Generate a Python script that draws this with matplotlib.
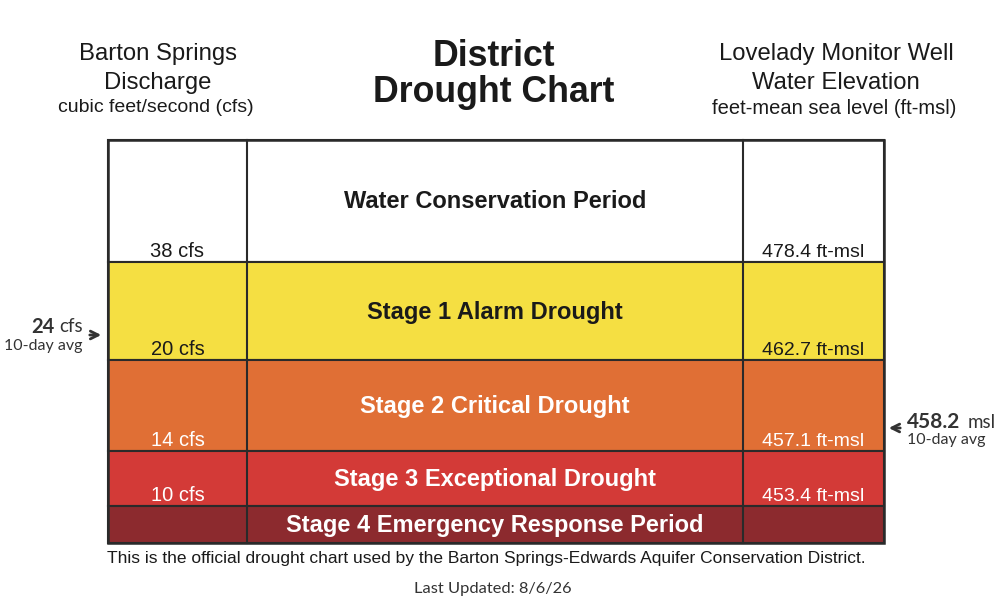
import matplotlib.pyplot as plt
from matplotlib.patches import Rectangle

# stage data
stages = ["Water Conservation Period", "Stage 1 Alarm Drought",
          "Stage 2 Critical Drought", "Stage 3 Exceptional Drought",
          "Stage 4 Emergency Response Period"]
cfs_limits = ["38 cfs", "20 cfs", "14 cfs", "10 cfs", ""]
msl_limits = ["478.4 ft-msl", "462.7 ft-msl", "457.1 ft-msl", "453.4 ft-msl", ""]
band_colors = ["#FFFFFF", "#F5DF42", "#E06F35", "#D33A37", "#8C2A2E"]
text_colors = ["#1a1a1a", "#1a1a1a", "#FFFFFF", "#FFFFFF", "#FFFFFF"]

current_cfs = "24"
current_msl = "458.2"
last_updated = "8/6/26"

# layout in pixels
row_edges = [140, 262, 360, 451, 506, 543]
col_edges = [108, 247, 743, 884]
EDGE = "#2a2a2a"

fig = plt.figure(figsize=(10.08, 6.03), dpi=100)
ax = fig.add_axes([0, 0, 1, 1])
ax.set_xlim(0, 1008)
ax.set_ylim(603, 0)
ax.axis("off")

ARIAL = ["Liberation Sans", "DejaVu Sans"]
ROUND = ["Lato", "DejaVu Sans"]

for i, name in enumerate(stages):
    top, bot = row_edges[i], row_edges[i + 1]
    ax.add_patch(Rectangle((col_edges[0], top), col_edges[-1] - col_edges[0], bot - top,
                           facecolor=band_colors[i], edgecolor=EDGE, linewidth=1.5))
    ax.text((col_edges[1] + col_edges[2]) / 2, (top + bot) / 2 + 1, name,
            ha="center", va="center", fontsize=17, fontweight="bold",
            color=text_colors[i], family=ARIAL)
    ax.text((col_edges[0] + col_edges[1]) / 2, bot - 1, cfs_limits[i],
            ha="center", va="bottom", fontsize=14.5, color=text_colors[i], family=ARIAL)
    ax.text((col_edges[2] + col_edges[3]) / 2, bot - 1, msl_limits[i],
            ha="center", va="bottom", fontsize=14, color=text_colors[i], family=ARIAL)

for x in col_edges[1:3]:
    ax.plot([x, x], [row_edges[0], row_edges[-1]], color=EDGE, linewidth=1.5)
ax.add_patch(Rectangle((col_edges[0], row_edges[0]), col_edges[-1] - col_edges[0],
                       row_edges[-1] - row_edges[0], fill=False, edgecolor=EDGE, linewidth=1.8))

# headers
ax.text(158, 54, "Barton Springs", ha="center", va="center", fontsize=17.2, family=ARIAL, color="#1a1a1a")
ax.text(158, 83, "Discharge", ha="center", va="center", fontsize=17.2, family=ARIAL, color="#1a1a1a")
ax.text(156, 108, "cubic feet/second (cfs)", ha="center", va="center", fontsize=14, family=ARIAL, color="#1a1a1a")

ax.text(494, 56, "District", ha="center", va="center", fontsize=25.7, fontweight="bold", family=ARIAL, color="#1a1a1a")
ax.text(494, 93, "Drought Chart", ha="center", va="center", fontsize=25.7, fontweight="bold", family=ARIAL, color="#1a1a1a")

ax.text(836, 54, "Lovelady Monitor Well", ha="center", va="center", fontsize=17.2, family=ARIAL, color="#1a1a1a")
ax.text(836, 83, "Water Elevation", ha="center", va="center", fontsize=17.2, family=ARIAL, color="#1a1a1a")
ax.text(834, 108, "feet-mean sea level (ft-msl)", ha="center", va="center", fontsize=14.5, family=ARIAL, color="#1a1a1a")

# current readings
ax.annotate("", xy=(104, 335), xytext=(87, 335),
            arrowprops=dict(arrowstyle="->", color="#333333", lw=2, mutation_scale=14))
ax.text(54, 327, current_cfs, ha="right", va="center", fontsize=14.5, fontweight="bold",
        family=ROUND, color="#333333")
ax.text(83, 327, "cfs", ha="right", va="center", fontsize=13.5, family=ROUND, color="#333333")
ax.text(83, 346, "10-day avg", ha="right", va="center", fontsize=11.5, family=ROUND, color="#333333")

ax.annotate("", xy=(886, 428), xytext=(903, 428),
            arrowprops=dict(arrowstyle="->", color="#333333", lw=2, mutation_scale=14))
ax.text(907, 422, current_msl, ha="left", va="center", fontsize=15, fontweight="bold",
        family=ROUND, color="#333333")
ax.text(968, 422, "msl", ha="left", va="center", fontsize=13.5, family=ROUND, color="#333333")
ax.text(907, 440, "10-day avg", ha="left", va="center", fontsize=11.5, family=ROUND, color="#333333")

# footer
ax.text(486, 559, "This is the official drought chart used by the Barton Springs-Edwards Aquifer Conservation District.",
        ha="center", va="center", fontsize=12.5, family=ARIAL, color="#1a1a1a")
ax.text(493, 589, f"Last Updated: {last_updated}", ha="center", va="center", fontsize=11.8,
        family=ROUND, color="#333333")

fig.savefig("out.png", dpi=100)
